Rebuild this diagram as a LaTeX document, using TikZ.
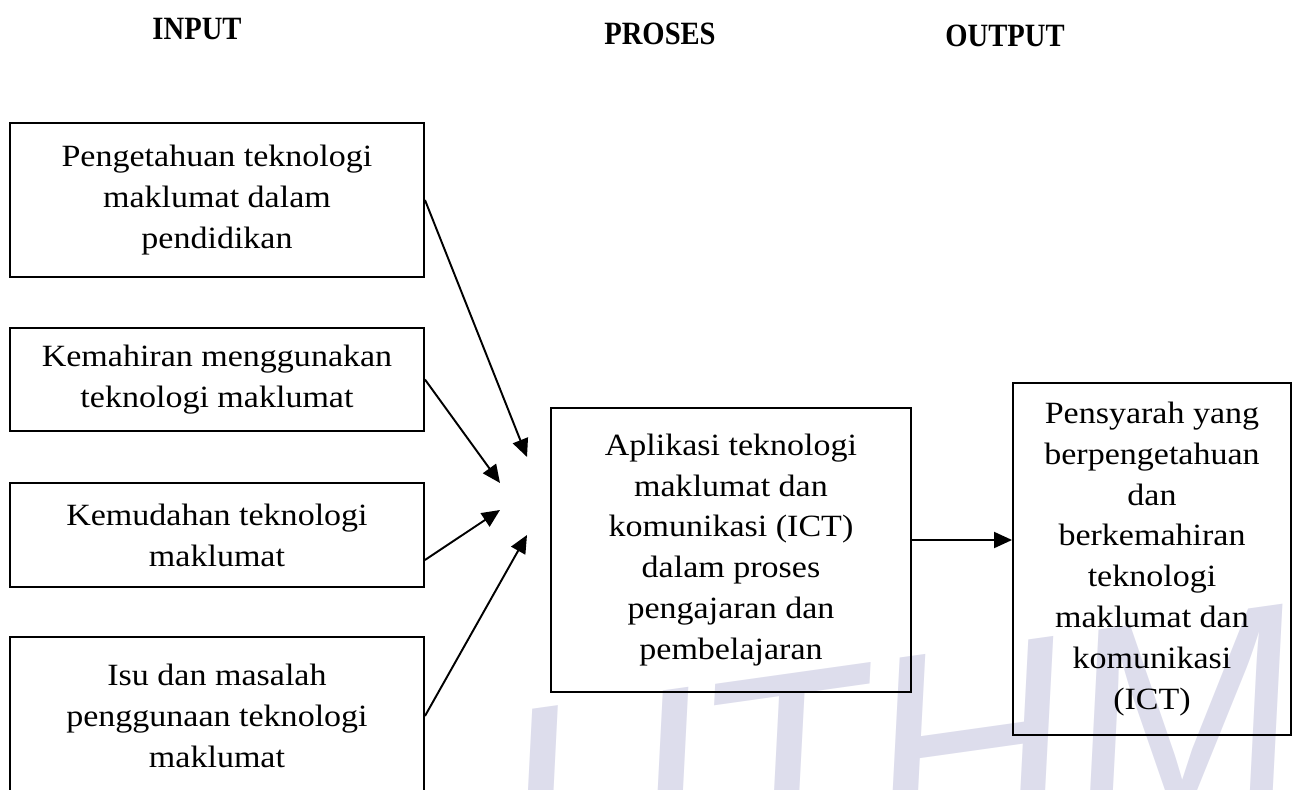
\documentclass[tikz,border=0pt]{standalone}
\usepackage{fontspec}
\setmainfont{Liberation Serif}[FakeStretch=1.1]
\newfontfamily\hdfont{Liberation Serif Bold}[FakeStretch=0.88]
\newfontfamily\wmfont{Liberation Sans}
\usetikzlibrary{arrows.meta}
\definecolor{wmark}{RGB}{221,221,236}

\begin{document}
\begin{tikzpicture}[
  box/.style={draw,line width=1.1pt,inner sep=0pt,align=center,font=\fontsize{17.6}{23.3}\selectfont},
  hd/.style={font=\hdfont\fontsize{18.5}{22}\selectfont},
  arr/.style={line width=1.1pt,-{Triangle[length=3.6mm,width=3.2mm]}}]
\clip (0,0) rectangle (25.98,15.78);
\node[wmark,rotate=8,anchor=base west,inner sep=0pt,font=\wmfont\itshape\fontsize{158}{158}\selectfont] (wm) at (10.3,-2.32) {UTHM};
\node[hd] (hin) at (3.94,15.2) {INPUT};
\node[hd] (hpr) at (13.2,15.1) {PROSES};
\node[hd] (hout) at (20.1,15.06) {OUTPUT};
\node[box,minimum width=8.28cm,minimum height=3.08cm] (in1) at (4.34,11.78) {Pengetahuan teknologi\\maklumat dalam\\pendidikan};
\node[box,minimum width=8.28cm,minimum height=2.06cm] (in2) at (4.34,8.19) {Kemahiran menggunakan\\teknologi maklumat};
\node[box,minimum width=8.28cm,minimum height=2.08cm] (in3) at (4.34,5.08) {Kemudahan teknologi\\maklumat};
\node[box,minimum width=8.28cm,minimum height=3.16cm] (in4) at (4.34,1.46) {Isu dan masalah\\penggunaan teknologi\\maklumat};
\node[box,minimum width=7.2cm,minimum height=5.68cm] (proc) at (14.62,4.78) {Aplikasi teknologi\\maklumat dan\\komunikasi (ICT)\\dalam proses\\pengajaran dan\\pembelajaran};
\node[box,minimum width=5.56cm,minimum height=7.04cm] (out) at (23.04,4.6) {Pensyarah yang\\berpengetahuan\\dan\\berkemahiran\\teknologi\\maklumat dan\\komunikasi\\(ICT)};
\coordinate (t1) at (10.54,6.64);
\coordinate (t2) at (10.0,6.12);
\coordinate (t3) at (10.0,5.58);
\coordinate (t4) at (10.54,5.08);
\draw[arr] (in1.east) -- (t1);
\draw[arr] (in2.east) -- (t2);
\draw[arr] ([yshift=-5mm]in3.east) -- (t3);
\draw[arr] (in4.east) -- (t4);
\draw[arr] ([yshift=2mm]proc.east) -- ([yshift=2mm]proc.east -| out.west);
\end{tikzpicture}
\end{document}
